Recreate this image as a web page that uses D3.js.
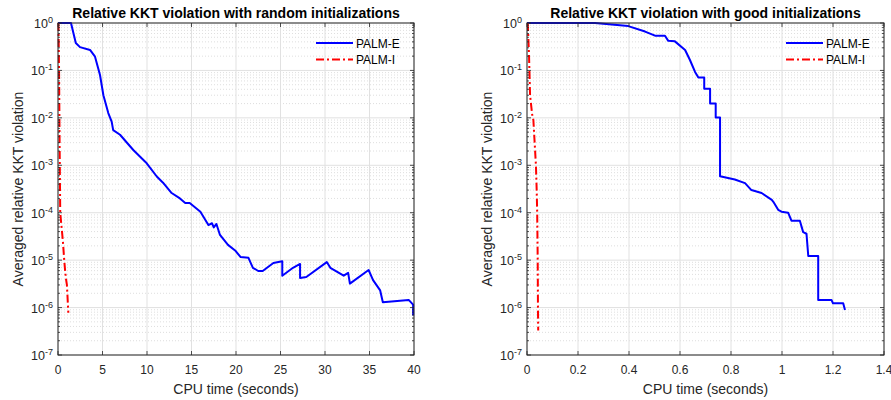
<!DOCTYPE html>
<html>
<head>
<meta charset="utf-8">
<script src="https://cdn.jsdelivr.net/npm/d3@7"></script>
<style>
  body { margin: 0; background: #fff; }
  svg { font-family: "Liberation Sans", Arial, sans-serif; }
</style>
</head>
<body>
<svg id="chart" width="891" height="400"></svg>
<script>
// [time (s), averaged relative KKT violation]
const randomPalmE = [
  [0, 1], [1.46, 1], [2.0, 0.38], [2.47, 0.31], [3.6, 0.27], [4.16, 0.195],
  [4.72, 0.08], [5.1, 0.03], [5.65, 0.0126], [6.03, 0.0083], [6.2, 0.0055],
  [6.97, 0.0044], [8.46, 0.0021], [9.97, 0.0011], [11.1, 5.8e-4], [11.8, 4.3e-4],
  [12.77, 2.6e-4], [13.7, 2.0e-4], [14.3, 1.6e-4], [14.8, 1.6e-4], [16, 1.05e-4],
  [16.9, 5.5e-5], [17.3, 6.0e-5], [17.5, 4.9e-5], [17.8, 5.8e-5], [18.2, 3.4e-5],
  [19.1, 2.1e-5], [19.9, 1.6e-5], [20.5, 1.17e-5], [21.4, 1.12e-5], [21.9, 6.9e-6],
  [22.5, 5.9e-6], [23, 5.9e-6], [24.2, 8.7e-6], [25.2, 9.5e-6], [25.2, 4.7e-6],
  [26.4, 6.9e-6], [27.2, 8.3e-6], [27.2, 4.2e-6], [27.9, 4.4e-6], [30.2, 9.1e-6],
  [30.6, 6.9e-6], [32.1, 4.7e-6], [32.6, 5.4e-6], [32.8, 3.2e-6], [34.9, 6.2e-6],
  [35.4, 3.8e-6], [36.2, 2.3e-6], [36.5, 1.3e-6], [39.4, 1.45e-6], [39.9, 1.15e-6],
  [39.9, 6.8e-7]
];
const randomPalmI = [
  [0.05, 1], [0.12, 0.1], [0.18, 0.003], [0.25, 1e-4], [0.4, 5e-5], [0.55, 2.5e-5],
  [0.7, 1e-5], [0.8, 6e-6], [0.9, 4e-6], [1.0, 3e-6], [1.05, 2e-6], [1.16, 7.8e-7]
];
const goodPalmE = [
  [0, 1], [0.267, 1], [0.397, 0.86], [0.463, 0.66], [0.502, 0.54], [0.541, 0.54],
  [0.554, 0.42], [0.58, 0.41], [0.62, 0.27], [0.639, 0.166], [0.659, 0.093],
  [0.672, 0.071], [0.695, 0.071], [0.695, 0.041], [0.718, 0.041], [0.718, 0.020],
  [0.74, 0.020], [0.74, 0.0102], [0.757, 0.0102], [0.757, 5.9e-4], [0.815, 5.0e-4],
  [0.855, 4.2e-4], [0.88, 3.0e-4], [0.92, 2.6e-4], [0.96, 1.86e-4], [0.966, 1.7e-4],
  [0.985, 1.15e-4], [0.998, 1.05e-4], [1.024, 1.0e-4], [1.037, 6.8e-5], [1.07, 6.8e-5],
  [1.083, 3.9e-5], [1.096, 3.6e-5], [1.103, 1.23e-5], [1.142, 1.23e-5], [1.142, 1.45e-6],
  [1.194, 1.45e-6], [1.2, 1.23e-6], [1.24, 1.23e-6], [1.247, 8.9e-7]
];
const goodPalmI = [
  [0.003, 1], [0.008, 0.2], [0.012, 0.03], [0.02, 0.012], [0.025, 0.009],
  [0.035, 0.001], [0.038, 3e-4], [0.04, 1e-4], [0.042, 1e-5], [0.043, 1e-6], [0.044, 3.3e-7]
];

const leftXTicks = [0, 5, 10, 15, 20, 25, 30, 35, 40];
const rightXTicks = [0, 0.2, 0.4, 0.6, 0.8, 1, 1.2, 1.4];
const yExponents = [0, -1, -2, -3, -4, -5, -6, -7];
const seriesNames = ["PALM-E", "PALM-I"];

const ink = "#262626";
const svg = d3.select("#chart");

const drawPanel = (opts) => {
  const { left, right, top, bottom, xMax, xTicks, title, lines } = opts;
  const x = d3.scaleLinear().domain([0, xMax]).range([left, right]);
  const y = d3.scaleLog().domain([1e-7, 1]).range([bottom, top]);
  const g = svg.append("g");

  // minor grid (log y)
  const minors = [];
  yExponents.slice(1).forEach((e) => {
    for (let k = 2; k <= 9; k++) minors.push(k * Math.pow(10, e));
  });
  g.append("g")
    .selectAll("line")
    .data(minors)
    .enter()
    .append("line")
    .attr("x1", left)
    .attr("x2", right)
    .attr("y1", (d) => y(d))
    .attr("y2", (d) => y(d))
    .attr("stroke", "#d6d6d6")
    .attr("stroke-width", 0.8)
    .attr("stroke-dasharray", "1,2");

  // major grid
  g.append("g")
    .selectAll("line")
    .data(yExponents)
    .enter()
    .append("line")
    .attr("x1", left)
    .attr("x2", right)
    .attr("y1", (d) => y(Math.pow(10, d)))
    .attr("y2", (d) => y(Math.pow(10, d)))
    .attr("stroke", "#e1e1e1")
    .attr("stroke-width", 1);
  g.append("g")
    .selectAll("line")
    .data(xTicks)
    .enter()
    .append("line")
    .attr("x1", (d) => x(d))
    .attr("x2", (d) => x(d))
    .attr("y1", top)
    .attr("y2", bottom)
    .attr("stroke", "#e1e1e1")
    .attr("stroke-width", 1);

  // data lines
  const line = d3
    .line()
    .x((d) => x(d[0]))
    .y((d) => y(d[1]));
  lines.forEach((s) => {
    g.append("path")
      .datum(s.data)
      .attr("d", line)
      .attr("fill", "none")
      .attr("stroke", s.color)
      .attr("stroke-width", 2)
      .attr("stroke-dasharray", s.dash || null)
      .attr("stroke-linejoin", "round");
  });

  // box
  g.append("rect")
    .attr("x", left)
    .attr("y", top)
    .attr("width", right - left)
    .attr("height", bottom - top)
    .attr("fill", "none")
    .attr("stroke", ink)
    .attr("stroke-width", 1);

  // ticks (inward)
  const tk = g.append("g").attr("stroke", ink).attr("stroke-width", 0.8);
  xTicks.forEach((t) => {
    tk.append("line").attr("x1", x(t)).attr("x2", x(t)).attr("y1", bottom).attr("y2", bottom - 4);
    tk.append("line").attr("x1", x(t)).attr("x2", x(t)).attr("y1", top).attr("y2", top + 4);
  });
  yExponents.forEach((e) => {
    const yy = y(Math.pow(10, e));
    tk.append("line").attr("x1", left).attr("x2", left + 4).attr("y1", yy).attr("y2", yy);
    tk.append("line").attr("x1", right).attr("x2", right - 4).attr("y1", yy).attr("y2", yy);
  });
  minors.forEach((m) => {
    const yy = y(m);
    tk.append("line").attr("x1", left).attr("x2", left + 2).attr("y1", yy).attr("y2", yy);
    tk.append("line").attr("x1", right).attr("x2", right - 2).attr("y1", yy).attr("y2", yy);
  });

  // tick labels
  g.append("g")
    .selectAll("text")
    .data(xTicks)
    .enter()
    .append("text")
    .attr("x", (d) => x(d))
    .attr("y", bottom + 18.5)
    .attr("text-anchor", "middle")
    .attr("font-size", 12)
    .attr("fill", ink)
    .text((d) => d3.format("~g")(d));
  const yl = g.append("g")
    .selectAll("text")
    .data(yExponents)
    .enter()
    .append("text")
    .attr("x", left - 5)
    .attr("y", (d) => y(Math.pow(10, d)) + 5)
    .attr("text-anchor", "end")
    .attr("font-size", 12.5)
    .attr("fill", ink);
  yl.append("tspan").text("10");
  yl.append("tspan")
    .attr("font-size", 9)
    .attr("dy", -5)
    .text((d) => String(d));

  // axis labels and title
  const cx = (left + right) / 2;
  g.append("text")
    .attr("x", cx)
    .attr("y", bottom + 39)
    .attr("text-anchor", "middle")
    .attr("font-size", 14)
    .attr("fill", ink)
    .text("CPU time (seconds)");
  g.append("text")
    .attr("transform", `translate(${left - 35}, ${(top + bottom) / 2}) rotate(-90)`)
    .attr("text-anchor", "middle")
    .attr("font-size", 14)
    .attr("fill", ink)
    .text("Averaged relative KKT violation");
  g.append("text")
    .attr("x", cx)
    .attr("y", top - 5)
    .attr("text-anchor", "middle")
    .attr("font-size", 14)
    .attr("font-weight", "bold")
    .attr("fill", "#000")
    .text(title);

  // legend
  const lg = g.append("g").attr("transform", `translate(${right - 98}, ${top + 20})`);
  lines.forEach((s, i) => {
    lg.append("line")
      .attr("x1", 0)
      .attr("x2", 37)
      .attr("y1", i * 16.5)
      .attr("y2", i * 16.5)
      .attr("stroke", s.color)
      .attr("stroke-width", 2)
      .attr("stroke-dasharray", s.dash || null);
    lg.append("text")
      .attr("x", 40)
      .attr("y", i * 16.5 + 4.5)
      .attr("font-size", 12)
      .attr("fill", "#000")
      .text(seriesNames[i]);
  });
};

drawPanel({
  left: 58, right: 414, top: 23, bottom: 355, xMax: 40, xTicks: leftXTicks,
  title: "Relative KKT violation with random initializations",
  lines: [
    { data: randomPalmE, color: "#0000ff" },
    { data: randomPalmI, color: "#ff0000", dash: "8,3,2,3" }
  ]
});
drawPanel({
  left: 527, right: 884, top: 23, bottom: 355, xMax: 1.4, xTicks: rightXTicks,
  title: "Relative KKT violation with good initializations",
  lines: [
    { data: goodPalmE, color: "#0000ff" },
    { data: goodPalmI, color: "#ff0000", dash: "8,3,2,3" }
  ]
});
</script>
</body>
</html>
